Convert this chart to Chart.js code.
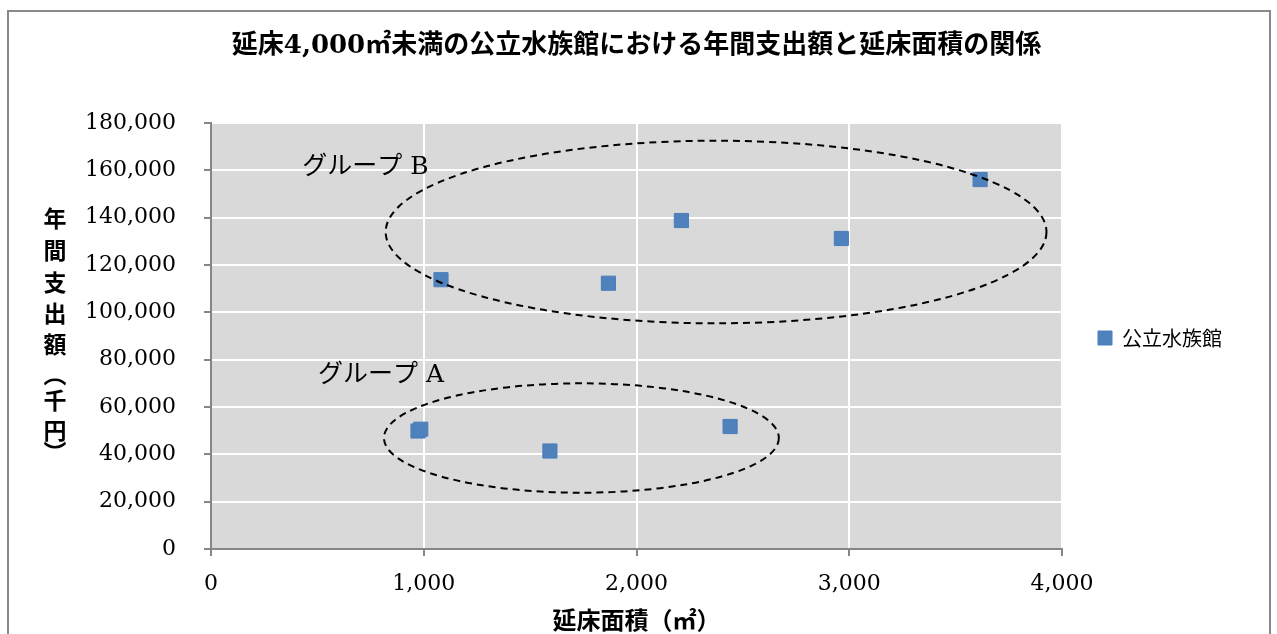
<!DOCTYPE html>
<html><head><meta charset="utf-8">
<script src="https://cdn.jsdelivr.net/npm/chart.js@4/dist/chart.umd.min.js"></script>
<style>
html,body{margin:0;padding:0;background:#fff;overflow:hidden;width:1277px;height:634px}
#frame{position:absolute;left:7px;top:10px;width:1264px;height:720px;border:2px solid #898989;box-sizing:border-box}
#wrap{position:absolute;left:0;top:0;width:1277px;height:634px}
</style></head><body>
<div id="frame"></div>
<div id="wrap"><canvas id="c" width="1277" height="634"></canvas></div>
<script>
// ---- data ----
const titleText = '延床4,000㎡未満の公立水族館における年間支出額と延床面積の関係';
const seriesName = '公立水族館';
const xTitle = '延床面積（㎡）';
const yTitleChars = ['年','間','支','出','額','︵','千','円','︶'];
const floorArea = [973, 986, 1593, 2440, 1081, 1868, 2211, 2963, 3615];
const annualSpend = [49860, 50620, 41400, 51760, 113790, 112300, 138800, 131200, 156100];
const xTicks = [0, 1000, 2000, 3000, 4000];
const yTicks = [0, 20000, 40000, 60000, 80000, 100000, 120000, 140000, 160000, 180000];
const groupNames = ['グループ A', 'グループ B'];
const groupCenterX = [1741, 2374];
const groupCenterY = [46900, 133940];
const groupRadiusX = [928, 1553];
const groupRadiusY = [23110, 38580];
const groupLabelX = [503, 429];
const groupLabelY = [73500, 161400];

const fmt = v => Number(v).toLocaleString('en-US');

const bgPlugin = {
  id: 'plotBg',
  beforeDraw(chart) {
    const {ctx, chartArea: a} = chart;
    ctx.save();
    ctx.fillStyle = '#d9d9d9';
    ctx.fillRect(a.left, a.top, a.right - a.left, a.bottom - a.top);
    ctx.restore();
  }
};

const legendShift = {
  id: 'legendShift',
  afterLayout(chart) {
    if (chart.legend) { chart.legend.top += 21; chart.legend.bottom += 21; }
  }
};

const groupsPlugin = {
  id: 'groups',
  afterDatasetsDraw(chart) {
    const {ctx, scales: {x, y}} = chart;
    ctx.save();
    ctx.strokeStyle = '#000';
    ctx.lineWidth = 2;
    ctx.setLineDash([7, 5]);
    for (let i = 0; i < groupNames.length; i++) {
      const cx = x.getPixelForValue(groupCenterX[i]);
      const cy = y.getPixelForValue(groupCenterY[i]);
      const rx = x.getPixelForValue(groupCenterX[i] + groupRadiusX[i]) - cx;
      const ry = cy - y.getPixelForValue(groupCenterY[i] + groupRadiusY[i]);
      ctx.beginPath();
      ctx.ellipse(cx, cy, rx, ry, 0, 0, Math.PI * 2);
      ctx.stroke();
    }
    ctx.setLineDash([]);
    ctx.fillStyle = '#000';
    ctx.font = "25px 'DejaVu Serif', 'Noto Sans CJK JP'";
    ctx.textAlign = 'left';
    ctx.textBaseline = 'middle';
    for (let i = 0; i < groupNames.length; i++) {
      ctx.fillText(groupNames[i], x.getPixelForValue(groupLabelX[i]), y.getPixelForValue(groupLabelY[i]));
    }
    ctx.restore();
  }
};

const yTitlePlugin = {
  id: 'yTitle',
  afterDraw(chart) {
    const {ctx} = chart;
    const pos = [218, 250, 282, 313, 344, 374, 400, 430, 452];
    ctx.save();
    ctx.fillStyle = '#000';
    ctx.font = "bold 23px 'Noto Sans CJK JP'";
    ctx.textAlign = 'center';
    ctx.textBaseline = 'middle';
    yTitleChars.forEach((ch, i) => ctx.fillText(ch, 55, pos[i]));
    ctx.restore();
  }
};

new Chart(document.getElementById('c'), {
  type: 'scatter',
  data: {
    datasets: [{
      label: seriesName,
      data: floorArea.map((v, i) => ({x: v, y: annualSpend[i]})),
      pointStyle: 'rect',
      pointRadius: 10,
      pointHoverRadius: 10,
      backgroundColor: '#4f81bd',
      borderColor: '#4a7ebb',
      borderWidth: 1
    }]
  },
  options: {
    responsive: false,
    animation: false,
    devicePixelRatio: 1,
    layout: {padding: {left: 0, top: 0, right: 45, bottom: 0}},
    plugins: {
      title: {
        display: true,
        fullSize: false,
        text: titleText,
        color: '#000',
        font: {family: "'DejaVu Serif', 'Noto Sans CJK JP'", size: 26, weight: 'bold'},
        padding: {top: 31, bottom: 60.8}
      },
      legend: {
        position: 'right',
        labels: {
          boxWidth: 14, boxHeight: 14, padding: 36, color: '#000',
          font: {family: "'Noto Sans CJK JP'", size: 20}
        }
      },
      tooltip: {enabled: false}
    },
    scales: {
      x: {
        type: 'linear', min: 0, max: 4000,
        afterBuildTicks: ax => { ax.ticks = xTicks.map(v => ({value: v})); },
        afterFit: ax => { ax.height = 85; },
        ticks: {callback: v => fmt(v), color: '#000', padding: 15,
          font: {family: "'DejaVu Serif'", size: 22}},
        grid: {color: '#ffffff', lineWidth: 2, tickColor: '#868686', tickWidth: 2, tickLength: 7},
        border: {color: '#868686', width: 2},
        title: {display: true, text: xTitle, color: '#000',
          font: {family: "'Noto Sans CJK JP'", size: 24, weight: 'bold'},
          padding: {top: 0, bottom: 0}}
      },
      y: {
        type: 'linear', min: 0, max: 180000,
        afterBuildTicks: ax => { ax.ticks = yTicks.map(v => ({value: v})); },
        afterFit: ax => { ax.width = 211; },
        ticks: {callback: v => fmt(v), color: '#000', padding: 28,
          font: {family: "'DejaVu Serif'", size: 22}},
        grid: {color: '#ffffff', lineWidth: 2, tickColor: '#868686', tickWidth: 2, tickLength: 7},
        border: {color: '#868686', width: 2}
      }
    }
  },
  plugins: [bgPlugin, legendShift, groupsPlugin, yTitlePlugin]
});
</script>
</body></html>
